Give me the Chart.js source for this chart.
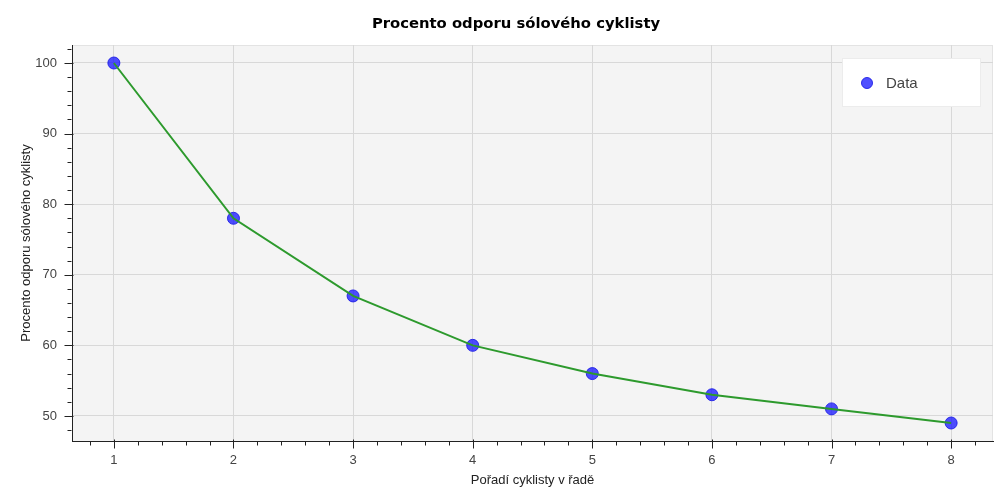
<!DOCTYPE html>
<html>
<head>
<meta charset="utf-8">
<script src="https://cdn.jsdelivr.net/npm/chart.js@4"></script>
<style>
html,body{margin:0;padding:0;background:#fff;}
#wrap{width:1000px;height:500px;position:relative;}
</style>
</head>
<body>
<div id="wrap"><canvas id="c"></canvas></div>
<script>
const titleText = 'Procento odporu sólového cyklisty';
const xAxisTitle = 'Pořadí cyklisty v řadě';
const yAxisTitle = 'Procento odporu sólového cyklisty';
const seriesLabel = 'Data';
const positions = [1, 2, 3, 4, 5, 6, 7, 8];
const resistance = [100, 78, 67, 60, 56, 53, 51, 49];
const xTicks = [1, 2, 3, 4, 5, 6, 7, 8];
const yTicks = [50, 60, 70, 80, 90, 100];

const points = positions.map((x, i) => ({x: x, y: resistance[i]}));

const FONT = '"Liberation Sans", Arial, sans-serif';

const bgPlugin = {
  id: 'bg',
  beforeDraw(chart) {
    const {ctx, chartArea: a} = chart;
    ctx.save();
    ctx.fillStyle = '#f4f4f4';
    ctx.fillRect(a.left, a.top, a.right - a.left, a.bottom - a.top);
    ctx.strokeStyle = '#e3e3e3';
    ctx.lineWidth = 1;
    ctx.strokeRect(a.left + 0.5, a.top + 0.5, a.right - a.left - 1, a.bottom - a.top);
    ctx.restore();
  }
};

const tickPlugin = {
  id: 'tickmarks',
  afterDraw(chart) {
    const {ctx} = chart;
    const xs = chart.scales.x, ys = chart.scales.y;
    ctx.save();
    ctx.strokeStyle = '#222';
    ctx.lineWidth = 1;
    ctx.beginPath();
    const yb = Math.round(xs.top) + 0.5;
    for (let k = Math.ceil(xs.min / 0.2); k * 0.2 <= xs.max + 1e-9; k++) {
      const v = k * 0.2;
      const px = Math.round(xs.getPixelForValue(v)) + 0.5;
      const major = Math.abs(v - Math.round(v)) < 1e-6;
      ctx.moveTo(px, yb - (major ? 2 : 0));
      ctx.lineTo(px, yb + (major ? 7 : 4));
    }
    const xl = Math.round(ys.right) - 0.5;
    for (let k = Math.ceil(ys.min / 2); k * 2 <= ys.max + 1e-9; k++) {
      const v = k * 2;
      const py = Math.round(ys.getPixelForValue(v)) + 0.5;
      const major = v % 10 === 0;
      ctx.moveTo(xl + (major ? 2 : 0), py);
      ctx.lineTo(xl - (major ? 7 : 4), py);
    }
    ctx.stroke();
    ctx.restore();
  }
};

const titlePlugin = {
  id: 'customTitle',
  afterDraw(chart) {
    const {ctx} = chart;
    ctx.save();
    ctx.font = 'bold 14.8px "DejaVu Sans", Verdana, sans-serif';
    ctx.fillStyle = '#000';
    ctx.textAlign = 'center';
    ctx.textBaseline = 'middle';
    ctx.fillText(titleText, 516, 24);
    ctx.restore();
  }
};

const legendPlugin = {
  id: 'insideLegend',
  afterDraw(chart) {
    const {ctx, chartArea: a} = chart;
    const ds = chart.data.datasets[1];
    const w = 139, h = 49;
    const x0 = a.right - 12 - w, y0 = a.top + 13;
    ctx.save();
    ctx.fillStyle = '#ffffff';
    ctx.fillRect(x0, y0, w, h);
    ctx.strokeStyle = '#ececec';
    ctx.lineWidth = 1;
    ctx.strokeRect(x0 + 0.5, y0 + 0.5, w - 1, h - 1);
    ctx.beginPath();
    ctx.arc(x0 + 25, y0 + 25, 5.5, 0, Math.PI * 2);
    ctx.fillStyle = ds.backgroundColor;
    ctx.fill();
    ctx.strokeStyle = ds.borderColor;
    ctx.stroke();
    ctx.font = '15px ' + FONT;
    ctx.fillStyle = '#444';
    ctx.textAlign = 'left';
    ctx.textBaseline = 'middle';
    ctx.fillText(ds.label, x0 + 44, y0 + 26);
    ctx.restore();
  }
};

new Chart(document.getElementById('c'), {
  type: 'scatter',
  data: {
    datasets: [
      {
        type: 'line',
        label: 'line',
        data: points,
        borderColor: '#2d9a2d',
        borderWidth: 2,
        pointRadius: 0,
        fill: false,
        tension: 0,
        order: 0
      },
      {
        type: 'scatter',
        label: seriesLabel,
        data: points,
        backgroundColor: 'rgba(20,20,255,0.75)',
        borderColor: 'rgba(30,30,230,0.9)',
        borderWidth: 1,
        pointRadius: 6,
        order: 1
      }
    ]
  },
  options: {
    responsive: true,
    maintainAspectRatio: false,
    animation: false,
    layout: {padding: {top: 45, right: 6, left: 1, bottom: 0}},
    plugins: {
      legend: {display: false},
      title: {display: false},
      tooltip: {enabled: false}
    },
    scales: {
      x: {
        type: 'linear',
        min: 0.65,
        max: 8.35,
        afterFit(s) { s.height = 59; },
        afterBuildTicks(s) { s.ticks = xTicks.map(v => ({value: v})); },
        ticks: {
          stepSize: 1,
          includeBounds: false,
          padding: 12,
          color: '#444',
          font: {family: FONT, size: 13}
        },
        grid: {color: '#d8d8d8', lineWidth: 1, drawTicks: false},
        border: {display: true, color: '#222', width: 1},
        title: {
          display: true,
          text: xAxisTitle,
          color: '#222',
          font: {family: FONT, size: 13},
          padding: {top: 0, bottom: 12}
        }
      },
      y: {
        type: 'linear',
        min: 46.45,
        max: 102.55,
        afterFit(s) { s.width = 71; },
        afterBuildTicks(s) { s.ticks = yTicks.map(v => ({value: v})); },
        ticks: {
          stepSize: 10,
          includeBounds: false,
          padding: 15,
          color: '#444',
          font: {family: FONT, size: 13}
        },
        grid: {color: '#d8d8d8', lineWidth: 1, drawTicks: false},
        border: {display: true, color: '#222', width: 1},
        title: {
          display: true,
          text: yAxisTitle,
          color: '#222',
          font: {family: FONT, size: 13},
          padding: {top: 18, bottom: 0}
        }
      }
    }
  },
  plugins: [bgPlugin, tickPlugin, titlePlugin, legendPlugin]
});
</script>
</body>
</html>
